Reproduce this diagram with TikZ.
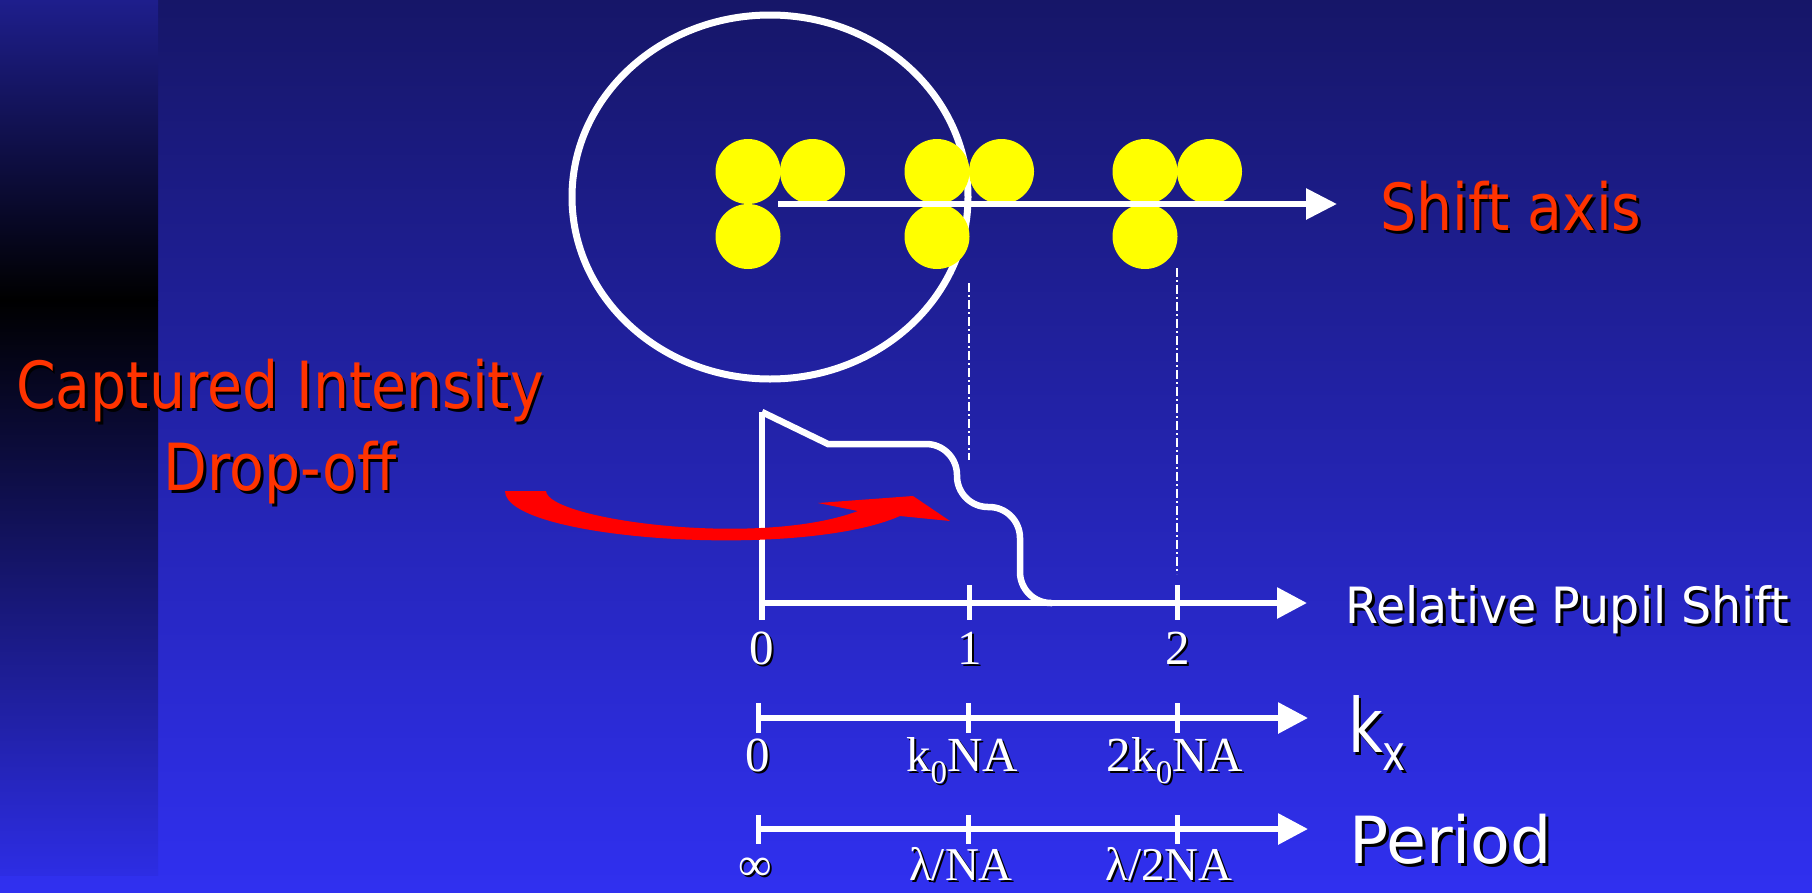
\documentclass[tikz,border=0pt]{standalone}
\usepackage{graphicx}
\usepackage{fontspec}
\usetikzlibrary{arrows.meta}
\newfontfamily\sansf{DejaVu Sans}
\newfontfamily\serf{Liberation Serif}
\definecolor{bgtop}{RGB}{22,22,104}
\definecolor{bgbot}{RGB}{48,48,240}
\definecolor{striptop}{RGB}{30,30,140}
\definecolor{stripbot}{RGB}{45,45,228}
\definecolor{redtxt}{RGB}{255,51,0}
\definecolor{arrowred}{RGB}{255,0,0}
\definecolor{spot}{RGB}{255,255,0}
\newcommand{\shd}[1]{\leavevmode\rlap{\kern3pt\raisebox{-3pt}{\textcolor{black}{#1}}}#1}
\newcommand{\shds}[1]{\leavevmode\rlap{\kern2pt\raisebox{-2pt}{\textcolor{black}{#1}}}#1}
\begin{document}
\begin{tikzpicture}[x=1pt,y=-1pt,
  axisline/.style={white, line width=6pt},
  axarrow/.style={axisline, -{Triangle[length=30pt,width=30pt]}},
  tick/.style={white, line width=5pt},
  guide/.style={white, line width=2pt, dash pattern=on 9pt off 3pt on 2pt off 3pt},
  spotc/.style={fill=spot, draw=none},
  redlabel/.style={text=redtxt, inner sep=0pt, font=\sansf\fontsize{65}{78}\selectfont},
  numlabel/.style={text=white, inner sep=0pt, anchor=base, font=\serf\fontsize{49}{55}\selectfont},
  whitelabel/.style={text=white, inner sep=0pt, anchor=base west}
]
\useasboundingbox (0,0) rectangle (1812,892);
% background
\shade[top color=bgtop, bottom color=bgbot] (0,0) rectangle (1812,892);
\shade[top color=striptop, bottom color=black] (0,0) rectangle (158,300);
\shade[top color=black, bottom color=stripbot] (0,300) rectangle (158,875);

% pupil ellipse
\draw[white, line width=7pt] (770,197) ellipse [x radius=198, y radius=182];

% yellow spots
\foreach \cx in {748, 937, 1145}{
  \fill[spotc] (\cx,171.5) circle[radius=32.5];
  \fill[spotc] (\cx+64.5,171.5) circle[radius=32.5];
  \fill[spotc] (\cx,236.5) circle[radius=32.5];
}

% shift axis
\coordinate (sa0) at (778,204);
\coordinate (sa1) at (1337,204);
\draw[white, line width=6pt, -{Triangle[length=31pt,width=30pt]}] (sa0) -- (sa1);
\node[redlabel, anchor=base west] (shiftlbl) at (1380,230) {\scalebox{0.875}[1]{\shd{Shift axis}}};

% guides
\coordinate (g1a) at (969,283); \coordinate (g1b) at (969,460);
\coordinate (g2a) at (1177,268); \coordinate (g2b) at (1177,574);
\draw[guide] (g1a) -- (g1b);
\draw[guide] (g2a) -- (g2b);

% intensity plot axes
\coordinate (o) at (762,603);
\coordinate (ytop) at (762,412);
\coordinate (ybot) at (762,620);
\coordinate (xend) at (1307,603);
\draw[axisline] (ytop) -- (ybot);
\draw[axarrow] (o) -- (xend);
\draw[tick] (969,585) -- (969,620);
\draw[tick] (1177,585) -- (1177,620);

% intensity curve
\draw[white, line width=6.5pt] (762,412) -- (828,444) [rounded corners=31pt] -- (957,444) -- (957,507) -- (1020,507) -- (1020,603) -- (1052,603);

% red arrow
\fill[arrowred] (505,491) -- (546,491) .. controls (548,520) and (760,548) .. (858,511)
  -- (818,503) -- (913,496) -- (950,521) -- (900,516)
  .. controls (800,560) and (505,540) .. (505,491) -- cycle;

% captured intensity label
\node[redlabel, anchor=base] (cap1) at (280,408) {\scalebox{0.875}[1]{\shd{Captured Intensity}}};
\node[redlabel, anchor=base] (cap2) at (280,490) {\scalebox{0.875}[1]{\shd{Drop-off}}};

% row 1 labels
\node[whitelabel, font=\sansf\fontsize{50}{60}\selectfont] (rps) at (1345,623) {\scalebox{0.95}[1]{\shd{Relative Pupil Shift}}};
\node[numlabel] (n0) at (762,664) {\shds{0}};
\node[numlabel] (n1) at (970,664) {\shds{1}};
\node[numlabel] (n2) at (1178,664) {\shds{2}};

% kx axis
\coordinate (k0) at (758,718);
\coordinate (k1) at (1308,718);
\draw[axarrow] (k0) -- (k1);
\foreach \tx in {758,968,1177}{\draw[tick] (\tx,703) -- (\tx,733);}
\node[whitelabel, font=\sansf\fontsize{75}{80}\selectfont] (kx) at (1348,752) {\scalebox{0.8}[1]{\shd{k\raisebox{-18pt}{\fontsize{49}{49}\selectfont x}}}};
\node[numlabel] (m0) at (758,771) {\shds{0}};
\node[numlabel] (m1) at (962,771) {\shds{k\raisebox{-12pt}{\fontsize{33}{33}\selectfont 0}NA}};
\node[numlabel] (m2) at (1175,771) {\shds{2k\raisebox{-12pt}{\fontsize{33}{33}\selectfont 0}NA}};

% period axis
\coordinate (p0) at (758,829);
\coordinate (p1) at (1308,829);
\draw[axarrow] (p0) -- (p1);
\foreach \tx in {758,968,1177}{\draw[tick] (\tx,815) -- (\tx,844);}
\node[whitelabel, font=\sansf\fontsize{65}{70}\selectfont] (period) at (1349,863) {\shd{Period}};
\node[numlabel, font=\serf\fontsize{47}{52}\selectfont] (q0) at (755,880) {\shds{∞}};
\node[numlabel, font=\serf\fontsize{47}{52}\selectfont] (q1) at (961,880) {\shds{λ/NA}};
\node[numlabel, font=\serf\fontsize{47}{52}\selectfont] (q2) at (1169,880) {\shds{λ/2NA}};
\end{tikzpicture}
\end{document}
